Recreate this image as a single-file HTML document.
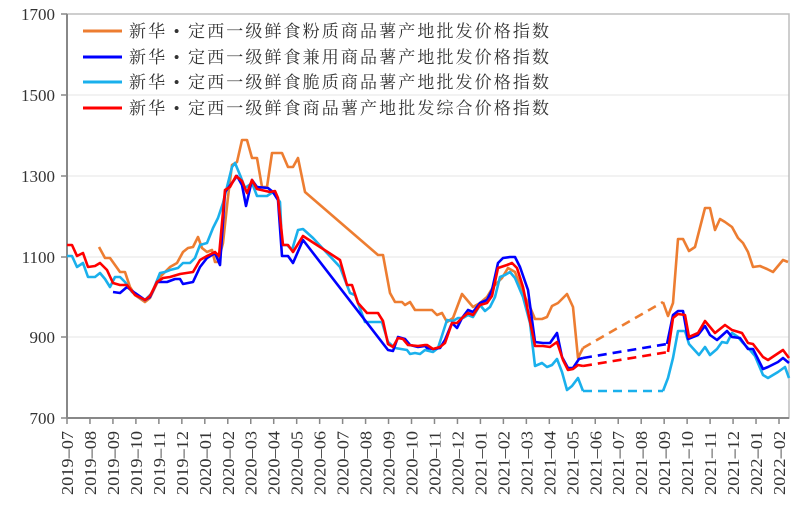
<!DOCTYPE html>
<html><head><meta charset="utf-8"><style>body{margin:0;background:#fff}svg{display:block}</style></head><body>
<svg width="802" height="515" viewBox="0 0 802 515" xmlns="http://www.w3.org/2000/svg">
<g stroke="#eeeeee" stroke-width="1.5">
<line x1="67" y1="95" x2="789" y2="95"/><line x1="67" y1="176" x2="789" y2="176"/><line x1="67" y1="257" x2="789" y2="257"/><line x1="67" y1="337" x2="789" y2="337"/>
</g>
<rect x="67" y="14" width="722" height="404" fill="none" stroke="#bdbdbd" stroke-width="1.5"/>
<line x1="67" y1="14" x2="67" y2="418" stroke="#888" stroke-width="2"/>
<line x1="67" y1="418" x2="789" y2="418" stroke="#888" stroke-width="2"/>
<g stroke="#888" stroke-width="1.5">
<line x1="61" y1="14" x2="67" y2="14"/><line x1="61" y1="95" x2="67" y2="95"/><line x1="61" y1="176" x2="67" y2="176"/><line x1="61" y1="257" x2="67" y2="257"/><line x1="61" y1="337" x2="67" y2="337"/><line x1="61" y1="418" x2="67" y2="418"/>
</g>
<g font-family="Liberation Serif, serif" font-size="17" fill="#333" text-anchor="end">
<text x="55" y="20">1700</text><text x="55" y="101">1500</text><text x="55" y="182">1300</text><text x="55" y="263">1100</text><text x="55" y="343">900</text><text x="55" y="424">700</text>
</g>
<g id="xt" font-family="Liberation Serif, serif" font-size="16.5" fill="#333"></g>
<g fill="none" stroke-width="2.6" stroke-linejoin="round">
<polyline stroke="#ed7d31" points="99,247 105,258 110,258 115,265 120,272 125,272 130,287 135,295 145,302 150,298 160,277 170,267 177,263 183,252 188,248 193,247 198,237 202,248 207,252 212,250 215,262 218,262 223,243 228,197 232,165 237,162 242,140 247,140 252,158 257,158 262,187 267,187 272,153 282,153 288,167 293,167 298,158 305,192 378,255 383,255 390,293 395,302 402,302 405,305 410,302 415,310 432,310 437,315 442,313 447,322 453,318 462,294 473,307 480,303 487,297 493,287 502,278 508,268 515,272 523,293 530,307 535,319 542,319 547,317 552,306 558,303 567,294 573,307 578,358 583,348"/>
<polyline stroke="#ed7d31" stroke-dasharray="9,6" points="583,348 663,302"/>
<polyline stroke="#ed7d31" points="663,302 668,316 673,303 678,239 683,239 689,251 695,247 705,208 710,208 715,230 720,219 725,222 732,227 738,238 743,243 748,252 753,267 760,266 767,269 773,272 783,260 788,262"/>
<polyline stroke="#1ab0ec" points="67,256 72,256 77,267 83,263 88,277 95,277 100,273 105,279 110,287 115,277 120,277 125,282 132,292 140,298 145,300 152,293 160,273 165,272 170,270 178,268 183,263 190,263 195,258 200,245 207,243 213,228 218,218 223,203 228,183 232,167 235,163 240,175 245,188 252,183 257,196 267,196 273,192 280,202 282,245 287,245 292,250 298,230 303,229 313,238 340,267 350,293 355,295 365,322 382,322 388,342 395,348 407,350 410,354 415,353 420,354 425,350 433,352 438,348 447,320 453,321 458,318 463,318 468,315 473,317 480,305 485,311 490,307 495,297 500,277 505,275 510,272 515,278 523,297 530,323 535,366 542,363 547,367 552,365 557,359 562,372 567,390 572,386 578,378 583,391"/>
<polyline stroke="#1ab0ec" stroke-dasharray="9,6" points="583,391 663,391"/>
<polyline stroke="#1ab0ec" points="663,391 668,378 673,358 678,331 685,331 689,344 699,355 705,347 710,355 717,349 722,342 727,343 732,333 738,337 743,343 750,350 755,356 763,375 768,378 778,372 785,367 789,378"/>
<polyline stroke="#0000ff" points="113,292 120,293 127,287 135,293 145,300 150,297 157,282 167,282 175,279 180,279 183,284 193,282 200,267 207,258 215,253 220,265 225,192 232,183 237,176 242,185 246,206 252,180 257,187 268,188 273,192 278,200 282,256 288,256 293,263 303,240 388,350 393,351 398,337 405,339 410,345 418,347 425,346 427,348 433,349 440,348 445,340 452,323 457,328 462,318 468,310 473,312 480,303 487,300 492,290 498,263 503,258 510,257 515,257 520,267 528,290 535,342 543,343 550,343 557,333 562,357 568,368 573,368 579,359 583,358"/>
<polyline stroke="#0000ff" stroke-dasharray="9,6" points="583,358 667,344"/>
<polyline stroke="#0000ff" points="667,344 673,315 678,311 683,311 688,339 698,335 705,326 710,335 717,340 727,331 732,337 740,338 748,349 753,349 763,369 768,367 778,362 783,358 789,363"/>
<polyline stroke="#ff0000" points="67,245 72,245 77,256 83,253 88,267 95,266 100,263 107,270 113,283 120,285 127,285 135,295 145,300 150,296 157,282 163,278 170,277 180,274 193,272 200,260 207,256 215,252 219,256 225,190 230,187 236,176 242,181 247,193 252,180 257,189 270,192 275,191 278,198 283,245 288,245 293,252 303,236 340,260 347,285 352,285 358,303 367,313 378,313 383,321 388,344 393,347 398,338 403,339 408,345 418,346 425,345 427,345 433,349 440,347 445,343 452,323 457,323 462,318 468,313 473,315 480,305 487,303 492,296 498,268 507,265 512,263 517,268 523,287 535,346 543,346 550,347 557,342 563,360 568,370 573,369 578,365 583,366"/>
<polyline stroke="#ff0000" stroke-dasharray="9,6" points="583,366 668,352"/>
<polyline stroke="#ff0000" points="668,352 673,318 678,314 685,315 689,337 698,333 705,321 715,333 725,325 732,330 742,333 748,343 753,344 763,357 768,360 783,350 789,358"/>
</g>
<g stroke-width="3">
<line x1="83" y1="31" x2="122" y2="31" stroke="#ed7d31"/>
<line x1="83" y1="57" x2="122" y2="57" stroke="#0000ff"/>
<line x1="83" y1="82" x2="122" y2="82" stroke="#1ab0ec"/>
<line x1="83" y1="108" x2="122" y2="108" stroke="#ff0000"/>
</g>
<g font-family="Liberation Serif, 'Noto Serif CJK SC', serif" font-size="17" fill="#333">
<text x="129" y="37" textLength="420" lengthAdjust="spacing">新华 • 定西一级鲜食粉质商品薯产地批发价格指数</text>
<text x="129" y="63" textLength="420" lengthAdjust="spacing">新华 • 定西一级鲜食兼用商品薯产地批发价格指数</text>
<text x="129" y="88" textLength="420" lengthAdjust="spacing">新华 • 定西一级鲜食脆质商品薯产地批发价格指数</text>
<text x="129" y="114" textLength="420" lengthAdjust="spacing">新华 • 定西一级鲜食商品薯产地批发综合价格指数</text>
</g>
<g stroke="#888" stroke-width="1.5" id="tk"></g>
<script>
var labs=[];for(var y=2019,m=7;!(y==2022&&m==3);){labs.push(y+"\u2013"+(m<10?"0":"")+m);m++;if(m>12){m=1;y++;}}
var g=document.getElementById('xt'),t=document.getElementById('tk'),ns="http://www.w3.org/2000/svg";
labs.forEach(function(l,i){var x=67+i*(712/31);
var ln=document.createElementNS(ns,'line');ln.setAttribute('x1',x);ln.setAttribute('x2',x);ln.setAttribute('y1',418);ln.setAttribute('y2',424);t.appendChild(ln);
var tx=document.createElementNS(ns,'text');tx.setAttribute('text-anchor','end');tx.setAttribute('textLength','64');tx.setAttribute('lengthAdjust','spacingAndGlyphs');tx.setAttribute('transform','translate('+(x+6)+',431) rotate(-90)');tx.textContent=l;g.appendChild(tx);});
</script>
</svg>
</body></html>
